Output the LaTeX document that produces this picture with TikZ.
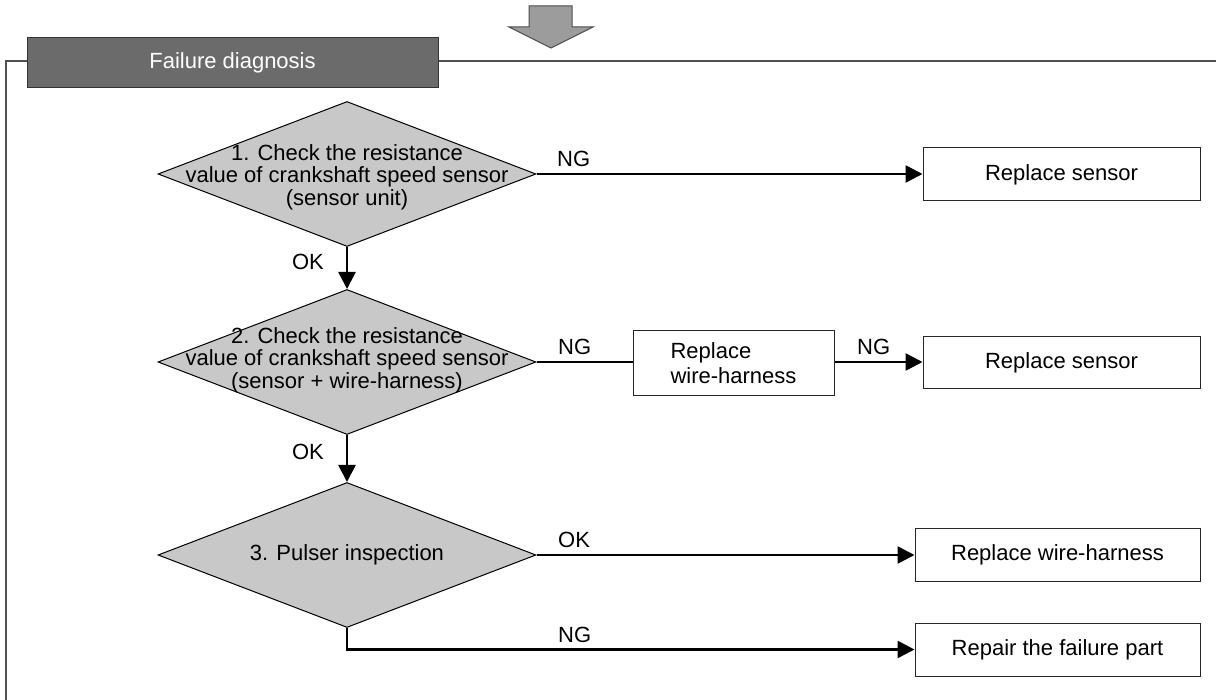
\documentclass[tikz,border=0pt]{standalone}
\usepackage{fontspec}
\setmainfont{Liberation Sans}
\usetikzlibrary{shapes.geometric,arrows.meta}

\definecolor{diafill}{HTML}{C8C8C8}
\definecolor{headfill}{HTML}{6B6B6B}
\definecolor{arrowfill}{HTML}{9C9C9C}
\definecolor{framecol}{HTML}{505050}

\begin{document}
\begin{tikzpicture}[x=1pt,y=-1pt,
  txt/.style={font=\fontsize{22}{22.5}\selectfont, inner sep=0pt, align=center},
  decision/.style={diamond, draw=black, line width=1pt, fill=diafill,
    minimum width=378pt, minimum height=145pt, inner sep=0pt},
  result/.style={rectangle, draw=black!85, line width=1pt, fill=white,
    font=\fontsize{22}{25}\selectfont, inner sep=0pt},
  conn/.style={line width=2.6pt, -{Triangle[length=17pt,width=17pt]}},
  plain/.style={line width=2.6pt},
  branch/.style={font=\fontsize{22}{22}\selectfont, inner sep=0pt},
]
% page area
\useasboundingbox (0,0) rectangle (1216,700);
\fill[white] (0,0) rectangle (1216,700);

% section frame
\coordinate (fTL) at (6,61);
\coordinate (fTR) at (1216,61);
\coordinate (fBL) at (6,700);
\draw[framecol, line width=1.6pt] (fBL) -- (fTL) -- (fTR);

% incoming block arrow
\draw[fill=arrowfill, draw=black!70, line width=1pt]
  (529,6) -- (572,6) -- (572,27) -- (593,27) -- (551,48) -- (509,27) -- (529,27) -- cycle;

% section header
\node[rectangle, fill=headfill, draw=black!80, line width=1pt,
  minimum width=411pt, minimum height=50pt, inner sep=0pt,
  text=white, font=\fontsize{22}{22}\selectfont] (head) at (232.5,63) {Failure diagnosis};

% decisions
\node[decision] (d1) at (347,174) {};
\node[txt] (d1t) at (347,177) {1. Check the resistance\\value of crankshaft speed sensor\\(sensor unit)};
\node[decision] (d2) at (347,362) {};
\node[txt] (d2t) at (347,360) {2. Check the resistance\\value of crankshaft speed sensor\\(sensor + wire-harness)};
\node[decision] (d3) at (347,555) {};
\node[txt] (d3t) at (347,555) {3. Pulser inspection};

% actions
\node[result, minimum width=277pt, minimum height=53pt] (r1) at (1061.5,174.5) {Replace sensor};
\node[result, minimum width=201pt, minimum height=65pt, align=left] (r2) at (733.5,363.5) {Replace\\wire-harness};
\node[result, minimum width=277pt, minimum height=52pt] (r3) at (1061.5,363) {Replace sensor};
\node[result, minimum width=285pt, minimum height=53pt] (r4) at (1057.5,554.5) {Replace wire-harness};
\node[result, minimum width=285pt, minimum height=53pt] (r5) at (1057.5,649.5) {Repair the failure part};

% connectors
\draw[conn] (d1.east) -- (d1.east -| r1.west);
\draw[conn] (d1.south) -- (d2.north);
\draw[plain] (d2.east) -- (d2.east -| r2.west);
\draw[conn] (r2.east |- d2.east) -- (d2.east -| r3.west);
\draw[conn] (d2.south) -- (d3.north);
\draw[conn] (d3.east) -- (d3.east -| r4.west);
\draw[conn] (d3.south) |- (r5.west);

% branch labels
\node[branch, anchor=base west] (l1) at (557,167) {NG};
\node[branch, anchor=base east] (l2) at (324,270) {OK};
\node[branch, anchor=base west] (l3) at (558,355) {NG};
\node[branch, anchor=base west] (l4) at (857,355) {NG};
\node[branch, anchor=base east] (l5) at (324,460) {OK};
\node[branch, anchor=base west] (l6) at (558,547) {OK};
\node[branch, anchor=base west] (l7) at (558,642) {NG};
\end{tikzpicture}
\end{document}
